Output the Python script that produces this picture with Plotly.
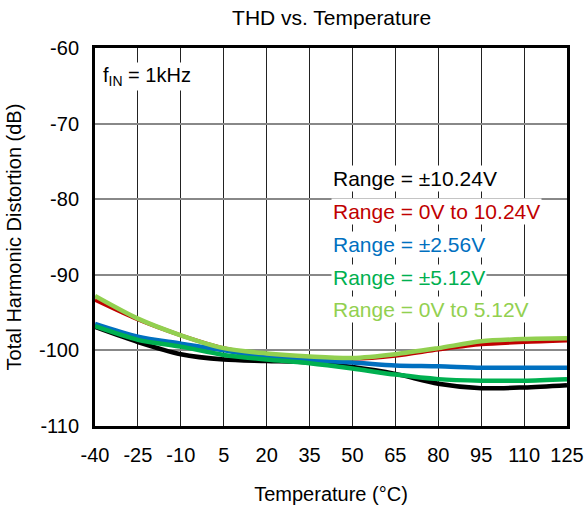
import plotly.graph_objects as go

# Temperature sweep points (°C)
temperature = [-40, -25, -10, 5, 20, 35, 50, 65, 80, 95, 110, 125]

# THD (dB) per input range
thd_pm10v24 = [-96.9, -98.9, -100.5, -101.2, -101.4, -101.6, -102.2, -103.1, -104.4, -105.0, -104.9, -104.6]
thd_0to10v24 = [-93.3, -95.9, -98.0, -99.7, -100.6, -100.9, -101.1, -100.7, -99.9, -99.2, -98.9, -98.7]
thd_pm2v56 = [-96.5, -98.2, -99.1, -100.0, -100.9, -101.3, -101.6, -102.0, -102.1, -102.3, -102.3, -102.3]
thd_pm5v12 = [-96.8, -98.6, -99.5, -100.6, -101.2, -101.7, -102.4, -103.2, -103.8, -104.0, -104.0, -103.8]
thd_0to5v12 = [-92.8, -95.8, -98.0, -99.7, -100.4, -100.8, -101.0, -100.5, -99.7, -98.8, -98.5, -98.4]

series_labels = [
    "Range = ±10.24V",
    "Range = 0V to 10.24V",
    "Range = ±2.56V",
    "Range = ±5.12V",
    "Range = 0V to 5.12V",
]
series_values = [thd_pm10v24, thd_0to10v24, thd_pm2v56, thd_pm5v12, thd_0to5v12]
series_colors = ["#000000", "#C00000", "#0070C0", "#00B050", "#92D050"]
series_widths = [4.5, 4, 4.5, 4.5, 4.5]

x_ticks = [-40, -25, -10, 5, 20, 35, 50, 65, 80, 95, 110, 125]
x_tick_text = ["-40", "-25", "-10", "5", "20", "35", "50", "65", "80", "95", "110", "125"]
y_ticks = [-110, -100, -90, -80, -70, -60]
y_tick_text = ["-110", "-100", "-90", "-80", "-70", "-60"]

FONT = "Arial, Liberation Sans, sans-serif"

fig = go.Figure()
for name, vals, color, w in zip(series_labels, series_values, series_colors, series_widths):
    fig.add_trace(go.Scatter(
        x=temperature, y=vals, mode="lines", name=name,
        line=dict(color=color, width=w, shape="spline", smoothing=0.8),
        showlegend=False,
    ))

# In-plot labels for each range, stacked on white boxes
label_y = [-77.3, -81.6, -86.0, -90.3, -94.6]
for name, color, ly in zip(series_labels, series_colors, label_y):
    fig.add_annotation(
        x=42.5, y=ly, xref="x", yref="y", text=name, showarrow=False,
        xanchor="left", yanchor="middle", bgcolor="white",
        font=dict(family=FONT, size=21, color=color),
    )

fig.add_annotation(
    x=-37.8, y=-63.8, xref="x", yref="y", text="f<sub>IN</sub> = 1kHz",
    showarrow=False, xanchor="left", yanchor="middle", bgcolor="white",
    font=dict(family=FONT, size=20, color="black"),
)

fig.update_layout(
    width=587, height=507,
    margin=dict(l=95, r=20, t=48, b=81, autoexpand=False),
    paper_bgcolor="white", plot_bgcolor="white",
    font=dict(family=FONT, size=20, color="black"),
    title=dict(text="THD vs. Temperature", x=0.565, xanchor="center",
               y=0.965, yanchor="middle", font=dict(family=FONT, size=21)),
    xaxis=dict(
        range=[-40, 125], tickmode="array", tickvals=x_ticks, ticktext=x_tick_text,
        showgrid=True, gridcolor="#222222", gridwidth=1.4,
        showline=True, linecolor="black", linewidth=3, mirror=True,
        ticks="", zeroline=False, ticklabelstandoff=9, automargin=False,
        title=dict(text="Temperature (°C)", standoff=22,
                   font=dict(family=FONT, size=20)),
    ),
    yaxis=dict(
        range=[-110, -60], tickmode="array", tickvals=y_ticks, ticktext=y_tick_text,
        showgrid=True, gridcolor="#888888", gridwidth=1.6,
        showline=True, linecolor="black", linewidth=3, mirror=True,
        ticks="", zeroline=False, ticklabelstandoff=9, automargin=False,
        title=dict(text="Total Harmonic Distortion (dB)", standoff=12,
                   font=dict(family=FONT, size=20)),
    ),
)

fig.write_html("out.html")
